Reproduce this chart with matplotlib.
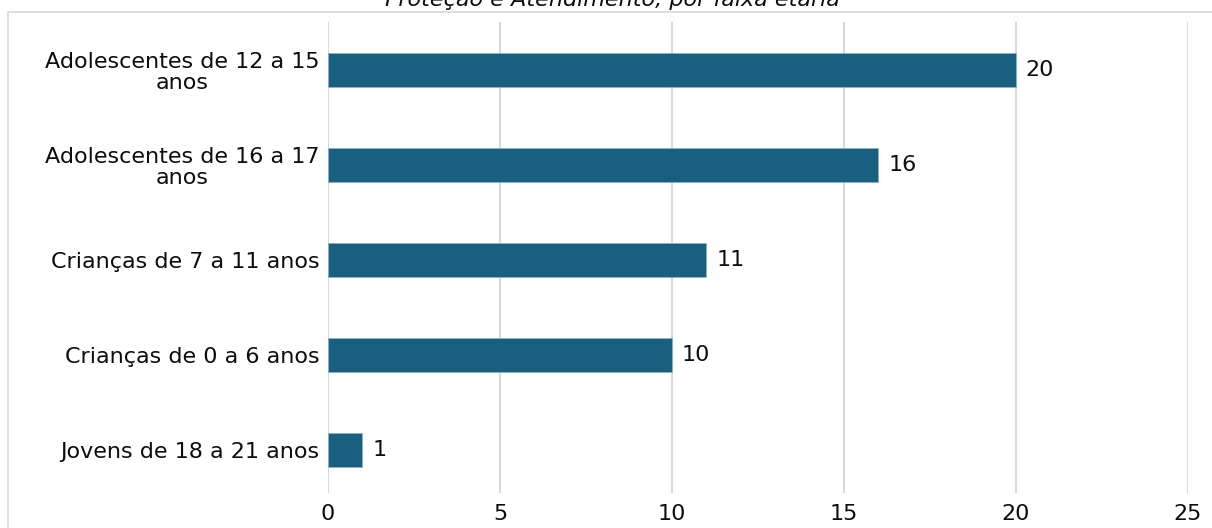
import matplotlib.pyplot as plt
from matplotlib.patches import Rectangle

categories = [
    "Jovens de 18 a 21 anos",
    "Crianças de 0 a 6 anos",
    "Crianças de 7 a 11 anos",
    "Adolescentes de 16 a 17\nanos",
    "Adolescentes de 12 a 15\nanos",
]
values = [1, 10, 11, 16, 20]
xticks = [0, 5, 10, 15, 20, 25]
title = "Proteção e Atendimento, por faixa etária"

BAR_COLOR = "#195f80"
GRID_COLOR = "#d9d9d9"
TEXT_COLOR = "#0d0d0d"
FONT = "DejaVu Sans"
FS = 16

plt.rcParams["font.family"] = FONT

W, H = 1212, 528
fig = plt.figure(figsize=(W / 100, H / 100), dpi=100)
fig.patch.set_facecolor("white")

ax = fig.add_axes([328 / W, 1 - 493 / H, (1188 - 328) / W, (493 - 22) / H])

ypos = list(range(len(categories)))
ax.barh(ypos, values, height=0.36, color=BAR_COLOR, edgecolor="#8fb3c6",
        linewidth=0.6, zorder=3)

for y, v in zip(ypos, values):
    ax.annotate(str(v), (v, y), xytext=(7, 0), textcoords="offset points",
                va="center", ha="left", fontsize=FS, color=TEXT_COLOR)

ax.set_xlim(0, 25)
ax.set_ylim(-0.45, 4.505)
ax.set_xticks(xticks)
ax.set_xticklabels([str(t) for t in xticks], fontsize=FS, color=TEXT_COLOR)
ax.set_yticks(ypos)
ax.set_yticklabels(categories, fontsize=FS, color=TEXT_COLOR,
                   multialignment="center", linespacing=1.05)
ax.tick_params(axis="both", length=0)
ax.tick_params(axis="x", pad=8)
ax.tick_params(axis="y", pad=6)

ax.grid(axis="x", color=GRID_COLOR, linewidth=1.5, zorder=0)
ax.set_axisbelow(True)
for s in ax.spines.values():
    s.set_visible(False)

# thin frame around the chart area
fig.patches.append(Rectangle((8 / W, -0.1), 1.2, 1.1 - 12 / H, fill=False,
                             edgecolor=GRID_COLOR, linewidth=1.2,
                             transform=fig.transFigure))

# last line of the chart title, running off the top edge
fig.text(612 / W, 1 - 6 / H, title, ha="center", va="baseline",
         fontsize=FS, style="italic", color=TEXT_COLOR)

fig.savefig("out.png", dpi=100, facecolor="white")
